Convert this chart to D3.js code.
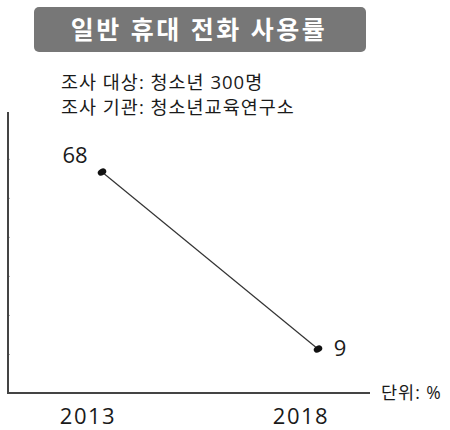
<!DOCTYPE html>
<html><head><meta charset="utf-8">
<script src="https://cdn.jsdelivr.net/npm/d3@7"></script>
<style>
html,body{margin:0;padding:0;background:#fff;}
text{font-family:"Open Sans","Noto Sans CJK KR",sans-serif;}
</style></head>
<body>
<svg id="c" width="450" height="430"></svg>
<script>
const title = "일반 휴대 전화 사용률";
const notes = ["조사 대상: 청소년 300명", "조사 기관: 청소년교육연구소"];
const unitLabel = "단위: %";
const years = ["2013", "2018"];
const values = [68, 9];
const gridTicks = [1, 2, 3, 4, 5, 6];

const svg = d3.select("#c");

// title box
svg.append("rect").attr("x", 34).attr("y", 7).attr("width", 332).attr("height", 45)
  .attr("rx", 5).attr("fill", "#777");
svg.append("text").attr("x", 199).attr("y", 39).attr("text-anchor", "middle")
  .attr("fill", "#fff").attr("font-size", 25).attr("font-weight", "bold")
  .attr("letter-spacing", 2.5).text(title);

svg.selectAll("text.note").data(notes).join("text").attr("class", "note")
  .attr("x", 61).attr("y", (d, i) => 89 + i * 25)
  .attr("font-size", 18.5).attr("letter-spacing", 1).attr("fill", "#1a1a1a").text(d => d);

// scales
const xLab = d3.scalePoint().domain(years).range([88, 301]);
const xPt = d3.scalePoint().domain(years).range([102, 318]);
const y = d3.scaleLinear().domain([9, 68]).range([349, 172]);
const yTick = d3.scaleLinear().domain([0, 7.2]).range([393, 112]);

// axes
const axisY = d3.axisLeft(yTick).tickValues(gridTicks).tickSize(-2).tickFormat("");
const gY = svg.append("g").attr("transform", "translate(8,0)").call(axisY);
gY.select(".domain").remove();
gY.selectAll(".tick line").attr("stroke", "#aaa").attr("stroke-width", 1);

svg.append("line").attr("x1", 8).attr("x2", 8).attr("y1", yTick(7.2)).attr("y2", 393)
  .attr("stroke", "#444").attr("stroke-width", 2);
svg.append("line").attr("x1", 7).attr("x2", 370).attr("y1", 393).attr("y2", 393)
  .attr("stroke", "#444").attr("stroke-width", 2);

svg.append("text").attr("x", 381).attr("y", 399).attr("font-size", 17.5)
  .attr("letter-spacing", 1).attr("fill", "#1a1a1a").text(unitLabel);

svg.selectAll("text.yr").data(years).join("text").attr("class", "yr")
  .attr("x", d => xLab(d)).attr("y", 424).attr("text-anchor", "middle")
  .attr("font-size", 22).attr("letter-spacing", 1.5).attr("fill", "#1a1a1a").text(d => d);

// line
const pts = years.map((yr, i) => [xPt(yr), y(values[i])]);
svg.append("path").attr("d", d3.line()(pts)).attr("fill", "none")
  .attr("stroke", "#333").attr("stroke-width", 1.2);

svg.selectAll("ellipse.m").data(pts).join("ellipse").attr("class", "m")
  .attr("cx", d => d[0]).attr("cy", d => d[1]).attr("rx", 4.5).attr("ry", 3.3)
  .attr("transform", d => `rotate(-30 ${d[0]} ${d[1]})`).attr("fill", "#111");

// value labels
svg.append("text").attr("x", 75).attr("y", 163).attr("text-anchor", "middle")
  .attr("font-size", 22).attr("fill", "#1a1a1a").text(values[0]);
svg.append("text").attr("x", 340).attr("y", 356).attr("text-anchor", "middle")
  .attr("font-size", 22).attr("fill", "#1a1a1a").text(values[1]);
</script>
</body></html>
